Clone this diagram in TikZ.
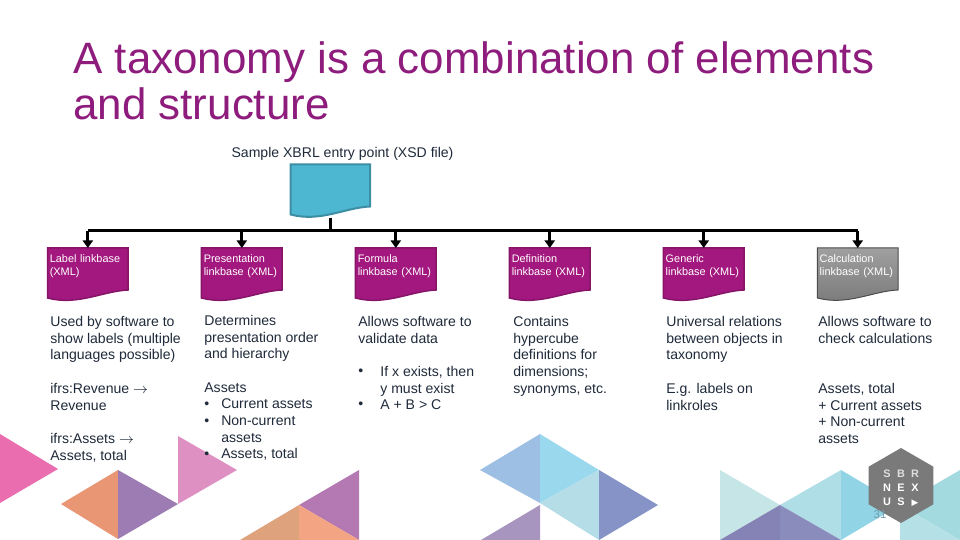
\documentclass[tikz,border=0pt]{standalone}
\usepackage{fontspec}
\setmainfont{Liberation Sans}
\newfontfamily\symfont{DejaVu Sans}
\usepackage{xcolor}
\usetikzlibrary{shapes.geometric, arrows.meta, positioning, backgrounds}

\definecolor{titlepurple}{HTML}{8E1C7C}
\definecolor{bodyink}{HTML}{1F2A3A}
\definecolor{docpurple}{HTML}{A3187E}
\definecolor{docedge}{HTML}{861468}
\definecolor{docteal}{HTML}{4DB6D0}
\definecolor{tealedge}{HTML}{3D8EA3}
\definecolor{hexgray}{HTML}{7A7A7A}
\definecolor{pagenumink}{HTML}{6F9AAE}

\tikzstyle{doc} = [rectangle, anchor=north west, text width=1.52cm, inner xsep=0.04cm, inner ysep=0.13cm, align=left, text=white, font=\fontsize{6.2}{7.4}\selectfont]
\tikzstyle{body} = [anchor=north west, inner sep=0pt, align=left, text=bodyink, font=\fontsize{8}{9.5}\selectfont]
\tikzstyle{busline} = [line width=0.06cm, black]
\tikzstyle{arrow} = [busline, -{Triangle[length=0.15cm, width=0.2cm]}]
\tikzstyle{purpledoc} = [fill=docpurple, draw=docedge, line width=0.03cm]
\tikzstyle{graydoc} = [top color=gray!75, bottom color=gray!95!black, draw=black!70, line width=0.02cm]
\tikzstyle{tealdoc} = [fill=docteal, draw=tealedge, line width=0.04cm]

\newcommand{\docpath}[1]{(#1.north west) -- (#1.north east) -- ([yshift=-0.84cm]#1.north east) .. controls +(-25,1) and +(30,8) .. ([yshift=-1cm]#1.north west) -- cycle}
\newcommand{\tri}[4]{\definecolor{tricol}{HTML}{#1}\fill[tricol] #2 -- #3 -- #4 -- cycle;}
\newcommand{\hexl}[1]{\makebox[0.28cm]{#1}}

\begin{document}
\begin{tikzpicture}[x=0.02cm, y=-0.02cm, node distance=3.08cm]
\useasboundingbox (0,0) rectangle (960,540);

\tri{EA6DB0}{(0,434)}{(58,469)}{(0,503)}
\tri{E99674}{(61,504)}{(118,470)}{(118,539)}
\tri{9D7BB3}{(118,470)}{(178,504)}{(118,539)}
\tri{DE90C2}{(178,436)}{(237,470)}{(178,504)}
\tri{B478B2}{(359,470)}{(299,505)}{(359,540)}
\tri{DEA27C}{(299,505)}{(240,540)}{(299,540)}
\tri{F3A482}{(299,505)}{(359,540)}{(299,540)}
\tri{9DBFE3}{(540,434)}{(480,470)}{(540,503)}
\tri{9AD8EE}{(540,434)}{(599,470)}{(540,503)}
\tri{B5DDE8}{(540,503)}{(599,470)}{(599,540)}
\tri{8593C6}{(599,470)}{(658,505)}{(599,540)}
\tri{A795BF}{(540,505)}{(481,540)}{(540,540)}
\tri{C6E5E6}{(720,470)}{(780,505)}{(720,540)}
\tri{B0DEE6}{(780,505)}{(841,470)}{(841,540)}
\tri{90D4E6}{(841,470)}{(900,505)}{(841,540)}
\tri{8583B5}{(780,505)}{(720,540)}{(780,540)}
\tri{8A8DBB}{(780,505)}{(841,540)}{(780,540)}
\tri{A3DADF}{(960,470)}{(900,505)}{(960,540)}
\tri{B5E0E6}{(900,505)}{(960,540)}{(900,540)}

\node (title) [anchor=north west, inner sep=0pt, align=left, text=titlepurple, font=\fontsize{25}{26.1}\selectfont] at (73,41) {A taxonomy is a combination of elements\\and structure};
\node (samplelabel) [inner sep=0pt, text=bodyink, font=\fontsize{8}{9}\selectfont] at (342.5,153.5) {Sample XBRL entry point (XSD file)};

\node (xsd) [rectangle, anchor=north west, minimum width=1.58cm, minimum height=1.05cm, inner sep=0pt] at (290.5,164.5) {};

\node (label) [doc] at (47.5,248) {Label linkbase (XML)};
\node (presentation) [doc, right of=label] {Presentation linkbase (XML)};
\node (formula) [doc, right of=presentation] {Formula\\linkbase (XML)};
\node (definition) [doc, right of=formula] {Definition\\linkbase (XML)};
\node (generic) [doc, right of=definition] {Generic\\linkbase (XML)};
\node (calculation) [doc, right of=generic] {Calculation\\linkbase (XML)};

\begin{scope}[on background layer]
\draw [tealdoc] \docpath{xsd};
\draw [purpledoc] \docpath{label};
\draw [purpledoc] \docpath{presentation};
\draw [purpledoc] \docpath{formula};
\draw [purpledoc] \docpath{definition};
\draw [purpledoc] \docpath{generic};
\draw [graydoc] \docpath{calculation};
\end{scope}

\coordinate (bus) at (xsd.south |- 0,231);
\draw [busline] (xsd.south) -- (bus);
\draw [busline] (bus -| label) -- (bus -| calculation);
\draw [arrow] (bus -| label) -- (label);
\draw [arrow] (bus -| presentation) -- (presentation);
\draw [arrow] (bus -| formula) -- (formula);
\draw [arrow] (bus -| definition) -- (definition);
\draw [arrow] (bus -| generic) -- (generic);
\draw [arrow] (bus -| calculation) -- (calculation);

\node (labeluse) [body] at (50,316) {Used by software to\\show labels (multiple\\languages possible)};
\node (labelrev) [body] at (50,383) {ifrs:Revenue $\rightarrow$\\Revenue};
\node (labelassets) [body] at (50,433) {ifrs:Assets $\rightarrow$\\Assets, total};

\node (presuse) [body] at (204,315) {Determines\\presentation order\\and hierarchy};
\node (presassets) [body] at (204,382) {Assets\\•\hspace{0.24cm}Current assets\\•\hspace{0.24cm}Non-current\\\hspace{0.34cm}assets\\•\hspace{0.24cm}Assets, total};

\node (formuse) [body] at (358,316) {Allows software to\\validate data};
\node (formbullets) [body] at (358,368.5) {•\\\\•};
\node (formrules) [body] at (380,366) {If x exists, then\\y must exist\\A + B > C};

\node (defuse) [body] at (513,316) {Contains\\hypercube\\definitions for\\dimensions;\\synonyms, etc.};

\node (genuse) [body] at (666,316) {Universal relations\\between objects in\\taxonomy};
\node (genlabels) [body] at (666,383) {E.g. labels on\\linkroles};

\node (calcuse) [body] at (818,316) {Allows software to\\check calculations};
\node (calcassets) [body] at (818,383) {Assets, total\\+ Current assets\\+ Non-current\\assets};

\node (nexus) [regular polygon, regular polygon sides=6, shape border rotate=30, fill=hexgray, minimum size=1.5cm, inner sep=0pt] at (901,485.5) {};
\node (nexuslogo) [inner sep=0pt, align=center, text=white, font=\fontsize{6.2}{7.9}\selectfont\bfseries] at (901,488) {\textcolor{white!75!gray}{\hexl{S}\hexl{B}\hexl{R}}\\\hexl{N}\hexl{E}\hexl{X}\\\hexl{U}\hexl{S}\hexl{\symfont\fontsize{5}{6}\selectfont ▶}};
\node (pagenum) [inner sep=0pt, text=pagenumink, font=\fontsize{6.5}{7}\selectfont] at (880,515) {31};

\end{tikzpicture}
\end{document}
